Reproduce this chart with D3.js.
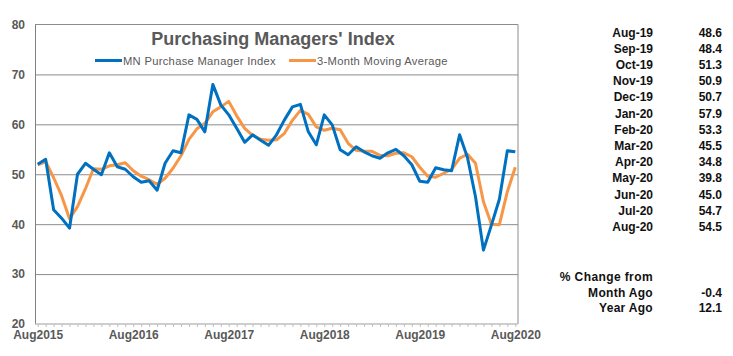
<!DOCTYPE html>
<html>
<head>
<meta charset="utf-8">
<script src="https://cdn.jsdelivr.net/npm/d3@7/dist/d3.min.js"></script>
<style>
  html, body { margin: 0; padding: 0; background: #fff; }
  svg { display: block; font-family: "Liberation Sans", Arial, sans-serif; }
</style>
</head>
<body>
<svg id="chart" width="733" height="356"></svg>
<script>
// ---- data ----
const monthNames = ["Jan","Feb","Mar","Apr","May","Jun","Jul","Aug","Sep","Oct","Nov","Dec"];
const months = [];
for (let k = 0; k < 61; k++) {
  const m = (7 + k) % 12, yr = 2015 + Math.floor((7 + k) / 12);
  months.push(monthNames[m] + yr);
}
const pmi = [
  52.0, 53.0, 42.9, 41.2, 39.2,
  50.0, 52.2, 51.0, 49.9, 54.3, 51.5, 51.0, 49.5, 48.4, 48.7, 46.8, 52.2,
  54.7, 54.3, 61.9, 61.0, 58.5, 68.0, 63.9, 61.9, 59.2, 56.4, 57.9, 56.8,
  55.8, 57.9, 60.9, 63.5, 64.0, 58.5, 55.9, 61.9, 59.9, 54.9, 53.9, 55.5,
  54.5, 53.7, 53.2, 54.3, 55.0, 53.7, 51.9, 48.6, 48.4, 51.3, 50.9, 50.7,
  57.9, 53.3, 45.5, 34.8, 39.8, 45.0, 54.7, 54.5
];
const movingAvg = [
  51.9, 52.5, 49.3, 45.7, 41.1,
  43.5, 47.1, 51.1, 51.0, 51.7, 51.9, 52.3, 50.7, 49.6, 48.9, 48.0, 49.2,
  51.2, 53.7, 57.0, 59.1, 60.2, 62.5, 63.5, 64.6, 61.7, 59.2, 57.8, 57.0,
  56.8, 56.9, 58.2, 60.8, 62.8, 62.0, 59.5, 58.8, 59.2, 58.9, 56.2, 54.8,
  54.6, 54.6, 53.8, 53.7, 54.2, 54.3, 53.5, 51.4, 49.6, 49.4, 50.2, 51.0,
  53.2, 54.0, 52.2, 44.5, 40.0, 39.9, 46.5, 51.4
];
const yTicks = [20, 30, 40, 50, 60, 70, 80];
const xTickLabels = ["Aug2015","Aug2016","Aug2017","Aug2018","Aug2019","Aug2020"];
const seriesNames = ["MN Purchase Manager Index", "3-Month Moving Average"];
const tableMonths = ["Aug-19","Sep-19","Oct-19","Nov-19","Dec-19","Jan-20","Feb-20","Mar-20","Apr-20","May-20","Jun-20","Jul-20","Aug-20"];
const tableValues = ["48.6","48.4","51.3","50.9","50.7","57.9","53.3","45.5","34.8","39.8","45.0","54.7","54.5"];
const changeLabels = ["Month Ago", "Year Ago"];
const changeValues = ["-0.4", "12.1"];

// ---- layout ----
const svg = d3.select("#chart");
const L = 35, R = 518, T = 24.5, B = 324;
const x = d3.scalePoint().domain(months).range([L, R]).padding(0.34);
const y = d3.scaleLinear().domain([20, 80]).range([B, T]);
const grey = "#595959";

// gridlines
svg.append("g")
  .attr("transform", `translate(${L},0)`)
  .call(d3.axisLeft(y).tickValues([30,40,50,60,70]).tickSize(-(R - L)).tickFormat(""))
  .call(g => g.select(".domain").remove())
  .call(g => g.selectAll("line").attr("stroke", "#8c8c8c").attr("stroke-width", 1));

// frame top / right
svg.append("line").attr("x1", L).attr("x2", R).attr("y1", T).attr("y2", T).attr("stroke", "#8c8c8c");
svg.append("line").attr("x1", R).attr("x2", R).attr("y1", T).attr("y2", B).attr("stroke", "#8c8c8c");

// y axis
svg.append("g")
  .attr("transform", `translate(${L},0)`)
  .call(d3.axisLeft(y).tickValues(yTicks).tickSize(0).tickPadding(10))
  .call(g => g.select(".domain").attr("stroke", "#808080"))
  .call(g => g.selectAll("text").attr("fill", grey).attr("font-size", 12).attr("font-weight", "bold")
    .attr("font-family", "Liberation Sans, Arial, sans-serif"));

// x axis: minor ticks each month
const xAxisG = svg.append("g").attr("transform", `translate(0,${B})`);
xAxisG.append("line").attr("x1", L).attr("x2", R).attr("y1", 0).attr("y2", 0).attr("stroke", "#bfbfbf").attr("stroke-width", 1.5);
xAxisG.call(d3.axisBottom(x).tickSize(3).tickFormat(d => xTickLabels.includes(d) ? d : ""))
  .call(g => g.select(".domain").remove())
  .call(g => g.selectAll("line").attr("stroke", "#bfbfbf"))
  .call(g => g.selectAll("text").attr("fill", grey).attr("font-size", 12).attr("font-weight", "bold")
    .attr("dy", "0.71em").attr("font-family", "Liberation Sans, Arial, sans-serif"));

// lines
const line = d3.line().x((d, i) => x(months[i])).y(d => y(d));
svg.append("path").datum(movingAvg).attr("d", line).attr("fill", "none")
  .attr("stroke", "#F79646").attr("stroke-width", 3).attr("stroke-linejoin", "round");
svg.append("path").datum(pmi).attr("d", line).attr("fill", "none")
  .attr("stroke", "#0070C0").attr("stroke-width", 3).attr("stroke-linejoin", "round");

// title
svg.append("text").attr("x", 273).attr("y", 45).attr("text-anchor", "middle")
  .attr("font-size", 18).attr("font-weight", "bold").attr("fill", grey)
  .text("Purchasing Managers' Index");

// legend
const legendItems = [
  {name: seriesNames[0], color: "#0070C0", x0: 95},
  {name: seriesNames[1], color: "#F79646", x0: 289}
];
legendItems.forEach(it => {
  svg.append("line").attr("x1", it.x0).attr("x2", it.x0 + 27).attr("y1", 60.5).attr("y2", 60.5)
    .attr("stroke", it.color).attr("stroke-width", 3);
  svg.append("text").attr("x", it.x0 + 28).attr("y", 64.5).attr("font-size", 11.2).attr("fill", grey)
    .attr("letter-spacing", 0.3).text(it.name);
});

// table
const tbl = svg.append("g").attr("font-size", 12).attr("font-weight", "bold").attr("fill", "#111");
tableMonths.forEach((m, i) => {
  const yy = 36.5 + i * 16.2;
  tbl.append("text").attr("x", 653).attr("y", yy).attr("text-anchor", "end").text(m);
  tbl.append("text").attr("x", 722).attr("y", yy).attr("text-anchor", "end").text(tableValues[i]);
});
tbl.append("text").attr("x", 653).attr("y", 280.5).attr("text-anchor", "end").attr("letter-spacing", 0.4).text("% Change from");
changeLabels.forEach((c, i) => {
  const yy = 296.5 + i * 15.5;
  tbl.append("text").attr("x", 653).attr("y", yy).attr("text-anchor", "end").attr("letter-spacing", 0.3).text(c);
  tbl.append("text").attr("x", 722).attr("y", yy).attr("text-anchor", "end").text(changeValues[i]);
});
</script>
</body>
</html>
